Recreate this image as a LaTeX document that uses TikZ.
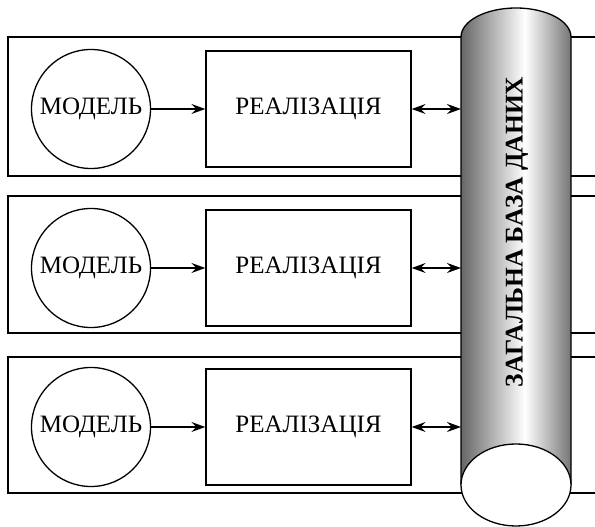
\documentclass[tikz,border=0pt]{standalone}
\usepackage{fontspec}
\setmainfont{Liberation Serif}
\usetikzlibrary{arrows.meta}

% horizontal shading for the database cylinder body
\pgfdeclarehorizontalshading{dbshade}{100bp}{%
  color(0bp)=(black!60); color(25bp)=(black!60);
  color(54bp)=(white);
  color(75bp)=(black!54); color(100bp)=(black!54)}

\tikzset{
  frame/.style={line width=1.5pt},
  model/.style={draw, circle, line width=1.3pt, minimum size=119pt, inner sep=0pt,
                font=\fontsize{25}{25}\selectfont},
  impl/.style={draw, rectangle, line width=1.3pt, minimum width=205pt, minimum height=116pt,
               inner sep=0pt, font=\fontsize{25}{25}\selectfont},
  tip/.style={Stealth[length=14pt,width=10pt,inset=5pt]},
  flow/.style={line width=1.3pt, -{Stealth[length=14pt,width=10pt,inset=5pt]}},
  link/.style={line width=1.3pt, {Stealth[length=14pt,width=10pt,inset=5pt]}-{Stealth[length=14pt,width=10pt,inset=5pt]}},
  dbline/.style={line width=1.3pt},
}

\begin{document}
\begin{tikzpicture}[x=1pt,y=1pt]
\useasboundingbox (0,0) rectangle (595,527);

% three row frames, open to the right
\foreach \top/\bot in {490/351, 331/194, 170/34}{
  \draw[frame] (600,\top) -- (8,\top) -- (8,\bot) -- (600,\bot);
}

% shaded database cylinder
\coordinate (dbL) at (461,0);
\shade[shading=dbshade] (461,42) -- (461,490)
  arc[start angle=180, end angle=0, x radius=55pt, y radius=29pt]
  -- (571,42) -- cycle;
\draw[dbline] (461,42) -- (461,490)
  arc[start angle=180, end angle=0, x radius=55pt, y radius=29pt]
  -- (571,42);
\draw[dbline, fill=white] (516,42) ellipse[x radius=55pt, y radius=41pt];
\node[rotate=90, font=\bfseries\fontsize{25.5}{25.5}\selectfont] (db) at (517,295) {ЗАГАЛЬНА БАЗА ДАНИХ};

% rows: model -> implementation <-> database
\foreach \i/\y in {1/418, 2/259, 3/100}{
  \node[model] (m\i) at (91,\y) {МОДЕЛЬ};
  \node[impl] (r\i) at (308.5,\y) {РЕАЛІЗАЦІЯ};
  \draw[flow] (m\i) -- (r\i);
  \draw[link] (r\i.east) -- (r\i.east -| dbL);
}
\end{tikzpicture}
\end{document}
